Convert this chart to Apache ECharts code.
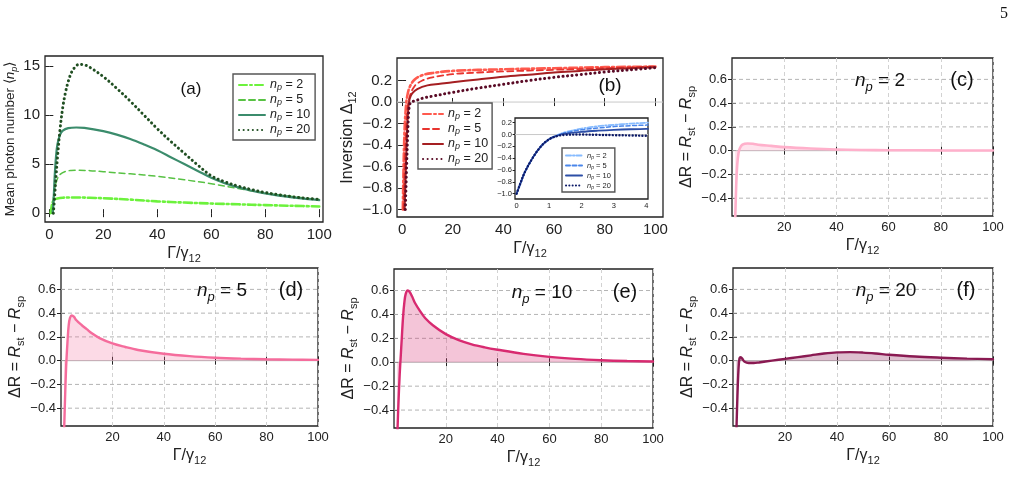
<!DOCTYPE html>
<html><head><meta charset="utf-8">
<script src="https://cdn.jsdelivr.net/npm/echarts@6/dist/echarts.min.js"></script>
<style>html,body{margin:0;padding:0;background:#fff}#c{width:1018px;height:478px}</style>
</head><body><div id="c"></div>
<script>
// ---------- DATA ----------
const npLabels = ['2', '5', '10', '20'];
// (a) mean photon number vs Γ/γ12
const aN2  = [[0.5,0],[1,0.9],[1.5,1.25],[2,1.4],[3,1.5],[5,1.57],[8,1.6],[10,1.6],[15,1.57],[20,1.52],[30,1.38],[40,1.2],[50,1.08],[60,0.98],[70,0.9],[80,0.82],[90,0.75],[100,0.68]];
const aN5  = [[1,0],[1.5,1.5],[2,2.6],[3,3.5],[4,3.95],[6,4.25],[8,4.35],[10,4.37],[15,4.33],[20,4.22],[30,4.0],[40,3.75],[50,3.4],[60,3.0],[70,2.5],[80,2.05],[90,1.7],[100,1.38]];
const aN10 = [[1.3,0],[1.7,2],[2,3.8],[2.5,5.8],[3,7],[4,8],[5,8.4],[7,8.65],[10,8.72],[13,8.68],[20,8.35],[25,8.0],[30,7.55],[35,7.0],[40,6.4],[45,5.7],[50,5.0],[55,4.3],[60,3.6],[65,3.05],[70,2.62],[75,2.28],[80,2.0],[85,1.78],[90,1.6],[95,1.45],[100,1.33]];
const aN20 = [[1.5,0],[2,1.8],[2.5,3.8],[3,5.6],[4,8.6],[5,10.8],[6,12.3],[7,13.4],[8,14.2],[9,14.7],[11,15.15],[13,15.1],[15,14.85],[20,13.9],[25,12.7],[30,11.4],[35,10.0],[40,8.6],[45,7.3],[50,6.1],[55,4.9],[60,3.8],[65,3.2],[70,2.75],[75,2.4],[80,2.1],[85,1.87],[90,1.68],[95,1.52],[100,1.4]];
// (b) inversion Δ12
const bN2  = [[0.3,-1],[0.6,-0.6],[1,-0.25],[1.5,-0.05],[2,0.05],[3,0.14],[5,0.21],[8,0.25],[12,0.27],[20,0.29],[40,0.305],[60,0.315],[80,0.325],[100,0.33]];
const bN5  = [[0.6,-1],[1,-0.6],[1.5,-0.3],[2,-0.1],[3,0.05],[5,0.15],[8,0.2],[12,0.23],[20,0.26],[30,0.275],[40,0.285],[60,0.3],[80,0.315],[100,0.33]];
const bN10 = [[1,-1],[1.5,-0.6],[2,-0.25],[2.5,-0.05],[3,0.03],[4,0.08],[6,0.12],[10,0.155],[15,0.17],[20,0.185],[30,0.21],[40,0.235],[50,0.255],[60,0.275],[70,0.29],[80,0.305],[90,0.315],[100,0.325]];
const bN20 = [[1.3,-1],[1.8,-0.6],[2.3,-0.25],[2.8,-0.05],[3.5,0.0],[5,0.01],[8,0.035],[12,0.055],[20,0.09],[30,0.13],[40,0.165],[50,0.2],[60,0.23],[70,0.255],[80,0.28],[90,0.3],[100,0.32]];
// inset of (b), small Γ/γ12
const iN2  = [[0,-1],[0.1,-0.85],[0.25,-0.64],[0.5,-0.39],[0.75,-0.2],[1,-0.08],[1.25,-0.01],[1.5,0.04],[2,0.1],[2.5,0.14],[3,0.165],[3.5,0.185],[4,0.2],[4.05,0.203]];
const iN5  = [[0,-1],[0.1,-0.85],[0.25,-0.64],[0.5,-0.39],[0.75,-0.2],[1,-0.08],[1.25,-0.015],[1.5,0.03],[2,0.08],[2.5,0.11],[3,0.135],[3.5,0.15],[4,0.16],[4.05,0.162]];
const iN10 = [[0,-1],[0.1,-0.85],[0.25,-0.64],[0.5,-0.39],[0.75,-0.2],[1,-0.08],[1.25,-0.02],[1.5,0.015],[2,0.045],[2.5,0.065],[3,0.08],[3.5,0.09],[4,0.095],[4.05,0.096]];
const iN20 = [[0,-1],[0.1,-0.85],[0.25,-0.64],[0.5,-0.39],[0.75,-0.2],[1,-0.08],[1.25,-0.025],[1.5,-0.005],[2,0.0],[2.5,-0.005],[3,-0.01],[3.5,-0.015],[4,-0.02],[4.05,-0.02]];
// (c)-(f) ΔR = Rst − Rsp
const cDR = [[1.2,-0.6],[1.6,-0.3],[2,-0.12],[2.5,-0.02],[3,0.02],[4,0.05],[6,0.06],[8,0.058],[10,0.05],[15,0.04],[20,0.03],[30,0.018],[40,0.01],[50,0.006],[60,0.004],[80,0.002],[100,0.001]];
const dDR = [[1.2,-0.6],[1.6,-0.3],[2,-0.05],[2.5,0.15],[3,0.3],[3.5,0.36],[4.2,0.38],[5,0.37],[6,0.34],[8,0.3],[10,0.265],[12,0.23],[15,0.19],[20,0.145],[25,0.115],[30,0.09],[40,0.058],[50,0.038],[60,0.025],[70,0.017],[80,0.012],[90,0.009],[100,0.007]];
const eDR = [[1.3,-0.6],[1.7,-0.35],[2.2,-0.1],[2.6,0.05],[3,0.2],[3.5,0.38],[4,0.5],[4.5,0.57],[5.3,0.6],[6,0.59],[7,0.55],[8,0.5],[10,0.43],[12,0.37],[15,0.31],[20,0.235],[25,0.185],[30,0.15],[35,0.125],[40,0.105],[50,0.07],[60,0.045],[70,0.028],[80,0.017],[90,0.01],[100,0.006]];
const fDR = [[1.3,-0.6],[1.7,-0.3],[2.1,-0.08],[2.5,0.02],[3,0.03],[3.6,0.015],[4.5,-0.01],[6,-0.02],[8,-0.02],[10,-0.015],[15,0.0],[20,0.015],[25,0.03],[30,0.045],[35,0.06],[40,0.07],[45,0.072],[50,0.068],[55,0.06],[60,0.05],[70,0.035],[80,0.025],[90,0.017],[100,0.012]];
// tick values
const xTicksMain = [0, 20, 40, 60, 80, 100];
const yTicksA = [0, 5, 10, 15];
const yTicksB = [-1, -0.8, -0.6, -0.4, -0.2, 0, 0.2];
const xTicksInset = [0, 1, 2, 3, 4];
const yTicksDR = [-0.4, -0.2, 0, 0.2, 0.4, 0.6];
const xTicksDR = [20, 40, 60, 80, 100];

// ---------- BUILD ----------
const FONT = '"Liberation Sans", Arial, sans-serif';
const XNAME = 'Γ/γ{s|12}';
const fmt1 = v => (v < -1e-9 ? '−' : '') + Math.abs(v).toFixed(1);
const fmt0 = v => String(Math.round(v));
const gridLine = () => ({color: '#d2d2d2', type: [4, 3], width: 1});

// rich-text styles: italic, subscript, italic subscript
function richSet(fs, color, key) {
  const c = {}; c[key] = color;
  const sub = Math.round(fs * 0.68);
  return {
    i: Object.assign({fontStyle: 'italic', fontSize: fs, fontFamily: FONT}, c),
    s: Object.assign({fontSize: sub, fontFamily: FONT, lineHeight: sub, verticalAlign: 'bottom'}, c),
    si: Object.assign({fontStyle: 'italic', fontSize: sub, fontFamily: FONT, lineHeight: sub, verticalAlign: 'bottom'}, c)
  };
}

const grids = [], xAxes = [], yAxes = [], series = [], legends = [], graphics = [];

function panel(g, x, y) {
  const gi = grids.length;
  grids.push(Object.assign({show: true, borderColor: '#222', borderWidth: 1.3, backgroundColor: '#fff', containLabel: false}, g));
  const xi = xAxes.length, yi = yAxes.length;
  const fs = x.fontSize || 13;
  const tickBase = {show: true, inside: true, length: 4, lineStyle: {color: '#222', width: 1}};
  const xns = x.nameSize || 16, yns = y.nameSize || 16;
  xAxes.push({
    type: 'value', gridIndex: gi, position: 'bottom', min: x.min, max: x.max, interval: x.interval,
    axisLine: {show: false},
    axisTick: Object.assign({customValues: x.ticks}, tickBase),
    axisLabel: {customValues: x.ticks, formatter: x.fmt, fontSize: fs, fontFamily: FONT, color: '#222', margin: x.margin || 5},
    splitLine: x.grid ? {show: true, lineStyle: gridLine()} : {show: false},
    name: x.name, nameLocation: 'middle', nameGap: x.nameGap,
    nameTextStyle: {fontSize: xns, lineHeight: Math.round(xns * 1.35), fontFamily: FONT, color: '#222', rich: richSet(xns, '#222', 'color')}
  });
  xAxes.push({
    type: 'value', gridIndex: gi, position: 'top', min: x.min, max: x.max,
    axisLine: {show: false}, axisLabel: {show: false}, splitLine: {show: false},
    axisTick: Object.assign({customValues: x.ticks}, tickBase)
  });
  yAxes.push({
    type: 'value', gridIndex: gi, position: 'left', min: y.min, max: y.max,
    axisLine: {show: false},
    axisTick: Object.assign({customValues: y.ticks}, tickBase),
    axisLabel: {customValues: y.ticks, formatter: y.fmt, fontSize: fs, fontFamily: FONT, color: '#222', margin: y.margin || 5},
    splitLine: {show: false},
    name: y.name, nameLocation: 'middle', nameGap: y.nameGap,
    nameTextStyle: {fontSize: yns, lineHeight: Math.round(yns * 1.35), fontFamily: FONT, color: '#222', rich: richSet(yns, '#222', 'color')}
  });
  yAxes.push({
    type: 'value', gridIndex: gi, position: 'right', min: y.min, max: y.max,
    axisLine: {show: false}, axisLabel: {show: false}, splitLine: {show: false},
    axisTick: Object.assign({customValues: y.ticks}, tickBase)
  });
  return {xi, yi, x, y};
}

function line(ax, name, data, color, width, type, extra) {
  series.push(Object.assign({
    type: 'line', name, data, xAxisIndex: ax.xi, yAxisIndex: ax.yi,
    symbol: 'none', smooth: 0.35, clip: true, silent: true,
    lineStyle: {color, width, type, cap: 'round'}, itemStyle: {color}
  }, extra || {}));
}
// horizontal reference/grid lines spanning the panel's x range at the given y tick values
function hRef(ax, vals, style, z) {
  vals.forEach((v, k) => series.push({
    type: 'line', name: '_h' + ax.yi + '_' + k, xAxisIndex: ax.xi, yAxisIndex: ax.yi,
    data: [[ax.x.min, v], [ax.x.max, v]], symbol: 'none', silent: true, z: z || 1,
    lineStyle: Object.assign({width: 1}, style)
  }));
}

const DASHDOT = [8, 3, 2, 3], DASHED = [6, 4], DOTTED = [0.1, 4.5];

// (a)
const A = panel({left: 45, top: 56, width: 278, height: 166},
  {min: -1.6, max: 101.4, ticks: xTicksMain, fmt: fmt0, name: XNAME, nameGap: 15, fontSize: 15},
  {min: -0.9, max: 16, ticks: yTicksA, fmt: fmt0, name: 'Mean photon number ⟨{i|n}{si|p}⟩', nameGap: 22, nameSize: 13.5, fontSize: 15});
line(A, 'a2', aN2, '#6cf23c', 2.6, DASHDOT);
line(A, 'a5', aN5, '#58c244', 1.5, DASHED);
line(A, 'a10', aN10, '#3b8c6c', 2.2, 'solid');
line(A, 'a20', aN20, '#204f22', 3, DOTTED);

// (b)
const B = panel({left: 397, top: 58, width: 266, height: 159},
  {min: -2, max: 103, ticks: xTicksMain, fmt: fmt0, name: XNAME, nameGap: 15, fontSize: 15},
  {min: -1.07, max: 0.41, ticks: yTicksB, fmt: fmt1, name: 'Inversion Δ{s|12}', nameGap: 34, fontSize: 15});
hRef(B, [0], {color: '#c8c8c8', type: 'solid'});
line(B, 'b2', bN2, '#ff5a4e', 2.6, DASHDOT);
line(B, 'b5', bN5, '#e8342f', 1.8, DASHED);
line(B, 'b10', bN10, '#a51f22', 2, 'solid');
line(B, 'b20', bN20, '#5a0b26', 3, DOTTED);

// inset
const I = panel({left: 515, top: 118, width: 133, height: 81, z: 5},
  {min: -0.05, max: 4.05, ticks: xTicksInset, fmt: fmt0, fontSize: 7.5, margin: 3, nameGap: 0},
  {min: -1.09, max: 0.28, ticks: yTicksB, fmt: fmt1, fontSize: 7.5, margin: 3, nameGap: 0});
hRef(I, [0], {color: '#c8c8c8', type: 'solid'}, 5);
line(I, 'i2', iN2, '#86bbff', 1.8, [5, 2, 1.5, 2], {z: 6});
line(I, 'i5', iN5, '#4a86ea', 1.5, [4, 2.5], {z: 6});
line(I, 'i10', iN10, '#2c4ea6', 1.8, 'solid', {z: 6});
line(I, 'i20', iN20, '#0c1a68', 2.4, [0.1, 3.2], {z: 6});

// (c)-(f)
function drPanel(g, key, data, lineColor, areaColor, lw) {
  const P = panel(g,
    {min: 0, max: 100, interval: 20, ticks: xTicksDR, fmt: fmt0, name: XNAME, nameGap: 17, fontSize: 13, grid: true},
    {min: -0.55, max: 0.78, ticks: yTicksDR, fmt: fmt1, name: 'ΔR = {i|R}{s|st} − {i|R}{s|sp}', nameGap: 31, fontSize: 13});
  hRef(P, yTicksDR.filter(v => Math.abs(v) > 1e-9), {color: '#b4b4b4', type: [4, 3]}, 1);
  line(P, key, data, lineColor, lw, 'solid', {z: 3, areaStyle: {origin: 0, color: areaColor, opacity: 1}});
  hRef(P, [0], {color: '#b4b4b4', type: 'solid'}, 2);
}
drPanel({left: 732, top: 58, width: 261, height: 158}, 'c', cDR, '#ffb0cb', 'rgba(255,176,203,0.35)', 2.6);
drPanel({left: 61, top: 268, width: 257, height: 158}, 'd', dDR, '#f56c9c', 'rgba(245,108,156,0.25)', 2.4);
drPanel({left: 394, top: 269, width: 259, height: 159}, 'e', eDR, '#d82a70', 'rgba(216,42,112,0.27)', 2.4);
drPanel({left: 733, top: 268, width: 260, height: 158}, 'f', fDR, '#8a1a52', 'rgba(138,26,82,0.28)', 2.4);

// legends
const npFmt = name => '{i|n}{si|p} = ' + name.replace(/^[abi]/, '');
function legend(keys, left, top, fs, lh, iw, ih, gap, pad, z) {
  legends.push({
    data: keys, left, top, orient: 'vertical', selectedMode: false,
    itemWidth: iw, itemHeight: ih, itemGap: gap, padding: pad,
    borderColor: '#555', borderWidth: 1.4, backgroundColor: '#fff', z: z || 10,
    itemStyle: {opacity: 0},
    formatter: npFmt,
    textStyle: {fontSize: fs, lineHeight: lh, fontFamily: FONT, color: '#222', rich: richSet(fs, '#222', 'color')}
  });
}
legend(npLabels.map(v => 'a' + v), 233, 74, 12.5, 14, 26, 10, 1, [4, 5, 3, 5]);
legend(npLabels.map(v => 'b' + v), 418, 103, 12.5, 14, 20, 10, 1, [4, 4, 3, 4]);
legend(npLabels.map(v => 'i' + v), 562, 148, 7.5, 9, 16, 6, 1, [3, 4, 2, 3], 12);

// text labels
function txt(text, x, y, size, extra) {
  graphics.push({type: 'text', z: 20, silent: true, style: Object.assign({
    text, x, y, font: size + 'px ' + FONT, fill: '#111', textAlign: 'center', textVerticalAlign: 'middle',
    lineHeight: Math.round(size * 1.35), rich: richSet(size, '#111', 'fill')
  }, extra || {})});
}
txt('(a)', 191, 89, 17);
txt('(b)', 610, 86, 19);
txt('{i|n}{si|p} = 2', 880, 81, 19); txt('(c)', 962, 80, 20);
txt('{i|n}{si|p} = 5', 222, 291, 19); txt('(d)', 291, 290, 20);
txt('{i|n}{si|p} = 10', 542, 293, 19); txt('(e)', 625, 292, 20);
txt('{i|n}{si|p} = 20', 886, 291, 19); txt('(f)', 966, 290, 20);
graphics.push({type: 'text', silent: true, style: {text: '5', x: 1004, y: 14, font: '16px "Liberation Serif", "DejaVu Serif", serif', fill: '#111', textAlign: 'center', textVerticalAlign: 'middle'}});

const chart = echarts.init(document.getElementById('c'), null, {renderer: 'canvas'});
chart.setOption({
  animation: false, backgroundColor: '#fff',
  grid: grids, xAxis: xAxes, yAxis: yAxes, series, legend: legends, graphic: graphics
});
</script></body></html>
